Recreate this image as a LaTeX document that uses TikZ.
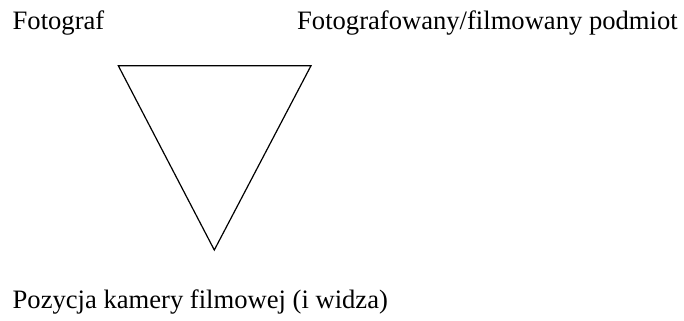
\documentclass[tikz,border=0pt]{standalone}
\usepackage{fontspec}
\setmainfont{Liberation Serif}
\begin{document}
\begin{tikzpicture}[x=1bp,y=-1bp,
  lbl/.style={anchor=base west,inner sep=0pt,font=\fontsize{26.6bp}{30bp}\selectfont},
  tri/.style={draw=black,line width=1.2bp,line join=miter}]
\useasboundingbox (0,0) rectangle (684,320);
\node[lbl] (a) at (12.5,29.5) {Fotograf};
\node[lbl] (b) at (297,29.5) {Fotografowany/filmowany podmiot};
\node[lbl] (c) at (12.5,308.3) {Pozycja kamery filmowej (i widza)};
\coordinate (p1) at (118.3,65.7);
\coordinate (p2) at (311,65.7);
\coordinate (p3) at (214.3,250);
\draw[tri] (p1) -- (p2) -- (p3) -- cycle;
\end{tikzpicture}
\end{document}
